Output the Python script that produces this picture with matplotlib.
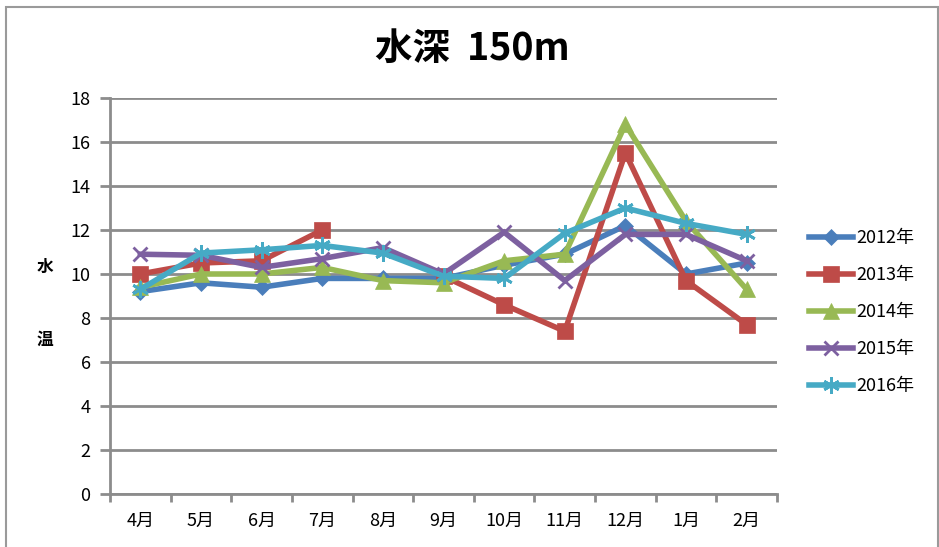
import matplotlib.pyplot as plt
import numpy as np
from matplotlib.patches import Rectangle

plt.rcParams['font.family'] = ['Noto Sans CJK JP', 'DejaVu Sans']

months = ["4月", "5月", "6月", "7月", "8月", "9月", "10月", "11月", "12月", "1月", "2月"]
years = ["2012年", "2013年", "2014年", "2015年", "2016年"]

t2012 = [9.2, 9.6, 9.4, 9.8, 9.8, 9.8, 10.4, 10.9, 12.2, 10.0, 10.5]
t2013 = [10.0, 10.5, 10.6, 12.0, np.nan, 9.9, 8.6, 7.4, 15.5, 9.7, 7.7]
t2014 = [9.4, 10.0, 10.0, 10.3, 9.7, 9.6, 10.6, 10.9, 16.8, 12.4, 9.3]
t2015 = [10.9, 10.85, 10.3, 10.7, 11.2, 10.0, 11.9, 9.7, 11.8, 11.8, 10.6]
t2016 = [9.3, 10.95, 11.1, 11.3, 10.95, 9.9, 9.8, 11.85, 13.0, 12.3, 11.8]

series = [t2012, t2013, t2014, t2015, t2016]
colors = ["#4A7EBB", "#BE4B48", "#98B954", "#7D60A0", "#46AAC5"]
markers = ["D", "s", "^", "x", (6, 2, 0)]
msizes = [8, 11, 11, 10, 12]

fig = plt.figure(figsize=(9.39, 5.47), dpi=100)
fig.patches.append(Rectangle((6 / 939, -0.1), 932 / 939, 1 - 7 / 547 + 0.1,
                             transform=fig.transFigure, fill=False,
                             edgecolor="#9a9a9a", linewidth=1.5))

ax = fig.add_axes([110 / 939, 1 - 494 / 547, 667 / 939, 396 / 547])
x = np.arange(len(months))
for vals, name, c, m, ms in zip(series, years, colors, markers, msizes):
    y = np.array(vals, dtype=float)
    thin = m == "x" or isinstance(m, tuple)
    ax.plot(x, y, color=c, linewidth=4, marker=m, markersize=ms,
            markeredgewidth=2 if thin else 0.5,
            markeredgecolor=c, label=name, solid_joinstyle="miter")

ax.set_xlim(-0.5, len(months) - 0.5)
ax.set_ylim(0, 18)
ax.set_yticks(range(0, 19, 2))
ax.set_xticks(x)
ax.set_xticklabels(months)
ax.set_xticks(np.arange(-0.5, len(months), 1), minor=True)
ax.tick_params(axis="x", which="major", length=0, pad=13, labelsize=13)
ax.tick_params(axis="x", which="minor", length=6, width=2, color="#8c8c8c", direction="out")
ax.tick_params(axis="y", length=7, width=2, color="#8c8c8c", labelsize=13, pad=7)
ax.grid(axis="y", color="#8c8c8c", linewidth=2)
ax.set_axisbelow(True)
for side in ("top", "right"):
    ax.spines[side].set_visible(False)
for side in ("left", "bottom"):
    ax.spines[side].set_color("#8c8c8c")
    ax.spines[side].set_linewidth(2)

fig.text(472 / 939, 1 - 48 / 547, "水深  150m", ha="center", va="center",
         fontsize=27, fontweight="bold")
fig.text(45 / 939, 1 - 267 / 547, "水", ha="center", va="center",
         fontsize=12, fontweight="bold")
fig.text(45 / 939, 1 - 340 / 547, "温", ha="center", va="center",
         fontsize=12, fontweight="bold")

fig.legend(loc="center left", bbox_to_anchor=(793 / 939, 1 - 312 / 547),
           frameon=False, fontsize=13, handlelength=2.4, handletextpad=0.2,
           labelspacing=1.05)

fig.savefig("out.png", dpi=100)
